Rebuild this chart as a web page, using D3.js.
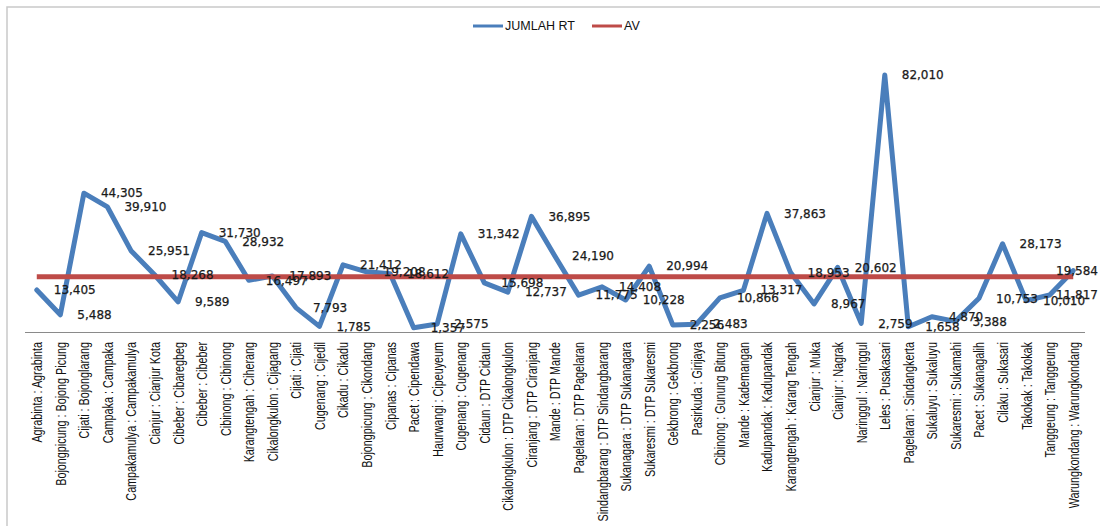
<!DOCTYPE html>
<html>
<head>
<meta charset="utf-8">
<script src="https://cdn.jsdelivr.net/npm/d3@7/dist/d3.min.js"></script>
<style>
  html, body { margin: 0; padding: 0; background: #fff; }
  svg { display: block; }
</style>
</head>
<body>
<svg id="chart" width="1100" height="526"></svg>
<script>
// Kecamatan : Desa/Puskesmas
const categories = [
  "Agrabinta : Agrabinta", "Bojongpicung : Bojong Picung", "Cijati : Bojonglarang",
  "Campaka : Campaka", "Campakamulya : Campakamulya", "Cianjur : Cianjur Kota",
  "Cibeber : Cibaregbeg", "Cibeber : Cibeber", "Cibinong : Cibinong",
  "Karangtengah : Ciherang", "Cikalongkulon : Cijagang", "Cijati : Cijati",
  "Cugenang : Cijedil", "Cikadu : Cikadu", "Bojongpicung : Cikondang",
  "Cipanas : Cipanas", "Pacet : Cipendawa", "Haurwangi : Cipeuyeum",
  "Cugenang : Cugenang", "Cidaun : DTP Cidaun", "Cikalongkulon : DTP Cikalongkulon",
  "Ciranjang : DTP Ciranjang", "Mande : DTP Mande", "Pagelaran : DTP Pagelaran",
  "Sindangbarang : DTP Sindangbarang", "Sukanagara : DTP Sukanagara", "Sukaresmi : DTP Sukaresmi",
  "Gekbrong : Gekbrong", "Pasirkuda : Girijaya", "Cibinong : Gunung Bitung",
  "Mande : Kademangan", "Kadupandak : Kadupandak", "Karangtengah : Karang Tengah",
  "Cianjur : Muka", "Cianjur : Nagrak", "Naringgul : Naringgul",
  "Leles : Pusakasari", "Pagelaran : Sindangkerta", "Sukaluyu : Sukaluyu",
  "Sukaresmi : Sukamahi", "Pacet : Sukanagalih", "Cilaku : Sukasari",
  "Takokak  : Takokak", "Tanggeung : Tanggeung", "Warungkondang : Warungkondang"
];

const jumlahRT = [
  13405, 5488, 44305, 39910, 25951, 18268, 9589, 31730, 28932,
  16497, 17893, 7793, 1785, 21412, 19208, 18612, 1357, 2575,
  31342, 15698, 12737, 36895, 24190, 11775, 14408, 10228, 20994,
  2256, 2483, 10866, 13317, 37863, 18953, 8967, 20602, 2759,
  82010, 1658, 4870, 3388, 10753, 28173, 10010, 11817, 19584
];

// Rata-rata jumlah RT
const avValue = 17629;
const av = categories.map(() => avValue);

const legendItems = ["JUMLAH RT", "AV"];
const colors = ["#4a7ebb", "#be4b48"];

const svg = d3.select("#chart");

// frame
svg.append("rect")
  .attr("x", 7).attr("y", 7)
  .attr("width", 1110).attr("height", 540)
  .attr("fill", "none")
  .attr("stroke", "#c9c9c9")
  .attr("stroke-width", 1.5);

const x = d3.scalePoint().domain(categories).range([25, 1085]).padding(0.5);
const y = d3.scaleLinear().domain([0, 90000]).range([332, 50]);

// category axis
const xAxis = d3.axisBottom(x).tickSize(0).tickPadding(0);
const gx = svg.append("g").attr("transform", `translate(0,${y(0)})`).call(xAxis);
gx.select(".domain").attr("stroke", "#8a8a8a").attr("stroke-width", 1)
  .attr("d", `M25,0.5H1085`);
gx.selectAll(".tick text")
  .attr("font-family", "'Liberation Sans', Arial, sans-serif")
  .attr("font-size", 14)
  .attr("fill", "#111")
  .attr("text-anchor", "end")
  .attr("transform", "translate(0,10) rotate(-90) scale(0.77,1)")
  .attr("x", 0)
  .attr("y", 0)
  .attr("dy", "0.35em");

const line = d3.line()
  .x((d, i) => x(categories[i]))
  .y(d => y(d));

svg.append("path")
  .datum(jumlahRT)
  .attr("d", line)
  .attr("fill", "none")
  .attr("stroke", colors[0])
  .attr("stroke-width", 5)
  .attr("stroke-linejoin", "round")
  .attr("stroke-linecap", "round");

svg.append("path")
  .datum(av)
  .attr("d", line)
  .attr("fill", "none")
  .attr("stroke", colors[1])
  .attr("stroke-width", 5);

// value labels, to the right of each point, kept inside the frame
const fmt = d3.format(",");
svg.append("g")
  .selectAll("text")
  .data(jumlahRT)
  .join("text")
  .attr("x", (d, i) => x(categories[i]) + 17)
  .attr("y", d => y(d))
  .attr("dy", "0.35em")
  .attr("font-family", "'DejaVu Sans', Verdana, sans-serif")
  .attr("font-size", 12)
  .attr("fill", "#1a1a1a")
  .attr("stroke", "#1a1a1a")
  .attr("stroke-width", 0.25)
  .text(d => fmt(d))
  .each(function () {
    const w = this.getComputedTextLength();
    const x0 = +this.getAttribute("x");
    if (x0 + w > 1098) this.setAttribute("x", 1098 - w);
  });

// legend
const legend = svg.append("g").attr("transform", "translate(0,26)");
const legendX = [473, 592];
legendItems.forEach((name, i) => {
  const g = legend.append("g").attr("transform", `translate(${legendX[i]},0)`);
  g.append("line")
    .attr("x1", 0).attr("x2", 30)
    .attr("y1", 0).attr("y2", 0)
    .attr("stroke", colors[i])
    .attr("stroke-width", 3);
  g.append("text")
    .attr("x", 32).attr("y", 0).attr("dy", "0.35em")
    .attr("font-family", "'Liberation Sans', Arial, sans-serif")
    .attr("font-size", 12.5)
    .attr("fill", "#111")
    .text(name);
});
</script>
</body>
</html>
